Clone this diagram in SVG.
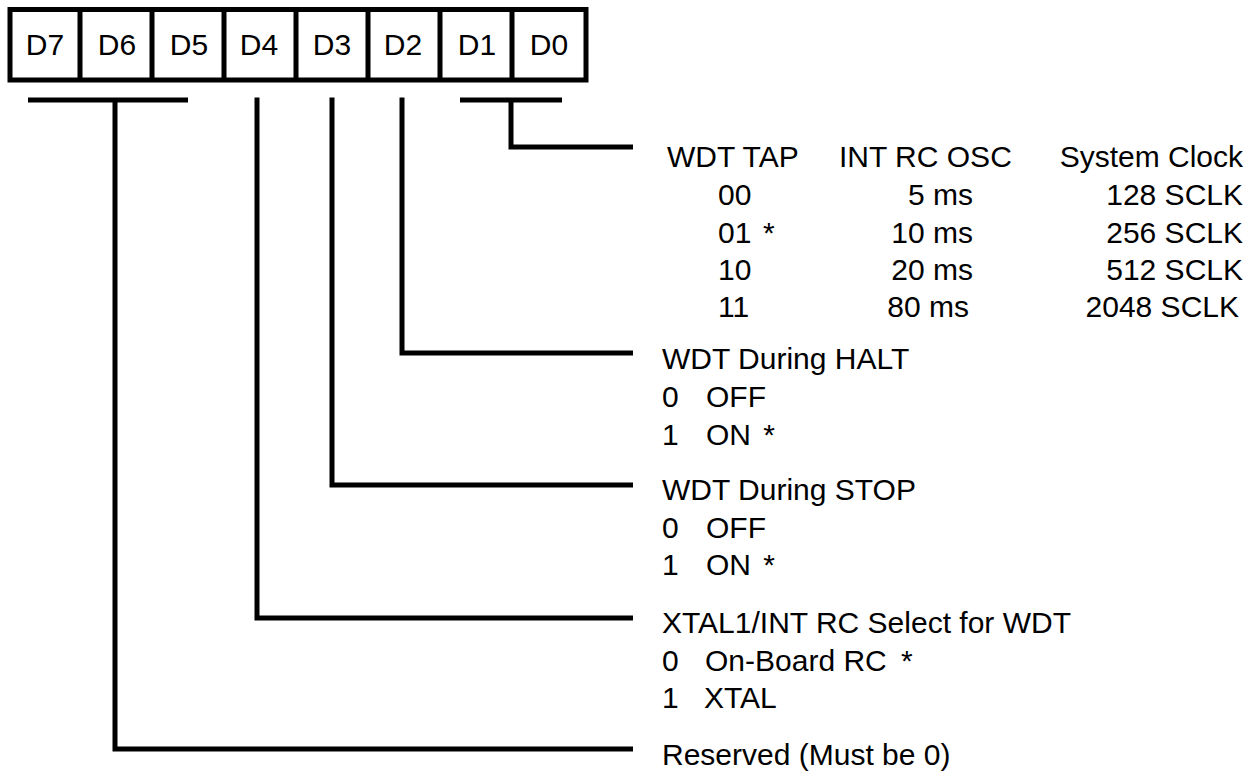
<svg xmlns="http://www.w3.org/2000/svg" width="1260" height="775" viewBox="0 0 1260 775">
<style>
.t{font-family:"Liberation Sans",Arial,sans-serif;font-size:30px;fill:#000}
.c{text-anchor:middle}
.r{text-anchor:end}
.ln{stroke:#000;stroke-width:5;fill:none}
</style>
<rect width="1260" height="775" fill="#fff"/>
<g id="register">
<rect x="10" y="9.5" width="576" height="70.5" fill="#fff" stroke="#000" stroke-width="5"/>
<path class="ln" d="M80 9.5V80M152 9.5V80M224 9.5V80M296 9.5V80M368 9.5V80M440 9.5V80M512 9.5V80"/>
<text class="t c" x="45" y="55">D7</text>
<text class="t c" x="117" y="55">D6</text>
<text class="t c" x="189" y="55">D5</text>
<text class="t c" x="259" y="55">D4</text>
<text class="t c" x="332" y="55">D3</text>
<text class="t c" x="403" y="55">D2</text>
<text class="t c" x="477" y="55">D1</text>
<text class="t c" x="549" y="55">D0</text>
</g>
<g id="connectors">
<path class="ln" d="M460 100H562M511 97.5V147H633"/>
<path class="ln" d="M402 97.5V353H633"/>
<path class="ln" d="M332 97.5V485H633"/>
<path class="ln" d="M257 97.5V618H633"/>
<path class="ln" d="M28 100H188M115 97.5V749H633"/>
</g>
<g id="wdt-tap">
<text class="t" x="667" y="167">WDT TAP</text>
<text class="t" x="839" y="167">INT RC OSC</text>
<text class="t r" x="1243" y="167">System Clock</text>
<text class="t" x="718" y="205">00</text>
<text class="t r" x="973" y="205">5 ms</text>
<text class="t r" x="1243" y="205">128 SCLK</text>
<text class="t" x="718" y="243">01</text>
<text class="t" x="763" y="243">*</text>
<text class="t r" x="973" y="243">10 ms</text>
<text class="t r" x="1243" y="243">256 SCLK</text>
<text class="t" x="718" y="280">10</text>
<text class="t r" x="973" y="280">20 ms</text>
<text class="t r" x="1243" y="280">512 SCLK</text>
<text class="t" x="718" y="317">11</text>
<text class="t r" x="969" y="317">80 ms</text>
<text class="t r" x="1239" y="317">2048 SCLK</text>
</g>
<g id="wdt-halt">
<text class="t" x="662" y="369">WDT During HALT</text>
<text class="t" x="662" y="407">0</text><text class="t" x="706" y="407">OFF</text>
<text class="t" x="662" y="445">1</text><text class="t" x="706" y="445">ON <tspan dx="4">*</tspan></text>
</g>
<g id="wdt-stop">
<text class="t" x="662" y="500">WDT During STOP</text>
<text class="t" x="662" y="538">0</text><text class="t" x="706" y="538">OFF</text>
<text class="t" x="662" y="575">1</text><text class="t" x="706" y="575">ON <tspan dx="4">*</tspan></text>
</g>
<g id="xtal-select">
<text class="t" x="662" y="633">XTAL1/INT RC Select for WDT</text>
<text class="t" x="662" y="671">0</text><text class="t" x="705" y="671">On-Board RC <tspan dx="6">*</tspan></text>
<text class="t" x="662" y="708">1</text><text class="t" x="704" y="708">XTAL</text>
</g>
<g id="reserved">
<text class="t" x="662" y="765">Reserved (Must be 0)</text>
</g>
</svg>
